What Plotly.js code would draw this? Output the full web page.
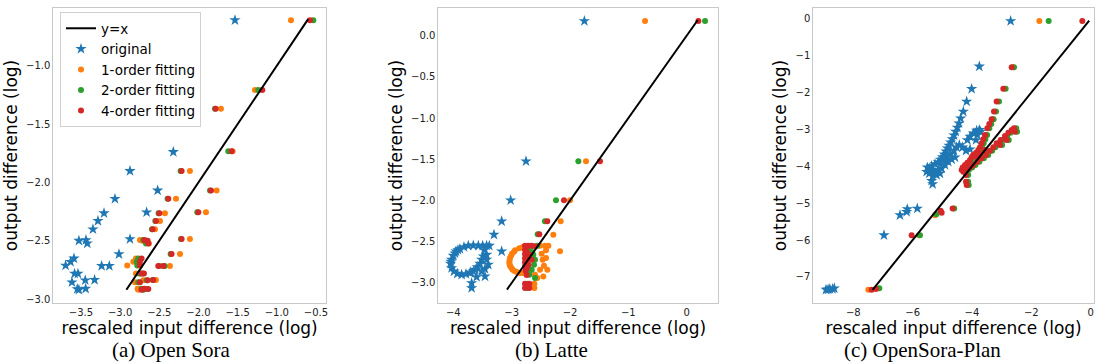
<!DOCTYPE html>
<html>
<head>
<meta charset="utf-8">
<script src="https://cdn.plot.ly/plotly-3.0.1.min.js"></script>
<style>html,body{margin:0;padding:0;background:#fff;}#chart{width:1109px;height:364px;}</style>
</head>
<body>
<div id="chart"></div>
<script>
// ---------- Data ----------
const seriesNames = ["original", "1-order fitting", "2-order fitting", "4-order fitting"];
const panelCaptions = ["(a) Open Sora", "(b) Latte", "(c) OpenSora-Plan"];
const xTitle = "rescaled input difference (log)";
const yTitle = "output difference (log)";

// Panel (a) Open Sora
const a_orig_x = [-1.534,-2.321,-2.874,-2.521,-3.066,-3.206,-2.662,-3.283,-3.347,-3.526,-3.436,-3.419,-2.874,-3.015,-3.589,-3.632,-3.696,-3.236,-3.138,-3.581,-3.538,-3.615,-3.445,-3.326,-3.547,-3.526,-3.440];
const a_orig_y = [-0.609,-1.739,-1.902,-2.069,-2.141,-2.264,-2.256,-2.330,-2.402,-2.500,-2.494,-2.523,-2.486,-2.615,-2.652,-2.681,-2.713,-2.716,-2.716,-2.782,-2.782,-2.856,-2.839,-2.836,-2.914,-2.920,-2.911];
const a_fit_y  = [-0.609,-1.207,-1.368,-1.733,-1.902,-2.069,-2.141,-2.256,-2.264,-2.330,-2.402,-2.486,-2.494,-2.500,-2.523,-2.615,-2.652,-2.681,-2.713,-2.716,-2.716,-2.782,-2.782,-2.839,-2.836,-2.856,-2.911,-2.914,-2.920];
const a_o1_x = [-0.819,-1.279,-1.713,-1.564,-2.109,-1.768,-2.287,-1.904,-2.428,-2.491,-2.555,-2.109,-2.747,-2.717,-2.632,-2.236,-2.798,-2.832,-2.909,-2.440,-2.364,-2.798,-2.747,-2.704,-2.543,-2.811,-2.777,-2.747,-2.768];
const a_o2_x = [-0.534,-1.236,-1.789,-1.619,-2.228,-1.853,-2.394,-2.015,-2.509,-2.551,-2.594,-2.223,-2.704,-2.662,-2.670,-2.355,-2.768,-2.789,-2.781,-2.500,-2.432,-2.755,-2.713,-2.662,-2.585,-2.768,-2.726,-2.662,-2.704];
const a_o4_x = [-0.577,-1.185,-1.781,-1.577,-2.215,-1.840,-2.385,-2.002,-2.500,-2.543,-2.585,-2.215,-2.691,-2.649,-2.640,-2.343,-2.726,-2.747,-2.747,-2.513,-2.449,-2.726,-2.696,-2.649,-2.577,-2.747,-2.691,-2.640,-2.726];
const a_line = [-2.92, -0.60];

// Panel (b) Latte
const b_orig_x = [-1.754,-2.754,-3.017,-3.171,-3.303,-3.171,
  -3.886,-3.817,-3.743,-3.657,-3.571,-3.497,-3.429,-3.383,-3.954,-4.000,-4.029,-4.046,-4.029,-3.989,-3.931,-3.857,-3.783,-3.714,-3.657,-3.589,-3.543,-3.514,-3.486,-3.429,-3.429,-3.400,-3.457,-3.514,-3.600,-3.457,-3.686,-3.686,
  -3.920,-3.970,-4.040,-3.700,-3.620,-3.470];
const b_orig_y = [0.178,-1.524,-1.997,-2.252,-2.414,-2.616,
  -2.588,-2.564,-2.548,-2.544,-2.548,-2.548,-2.548,-2.548,-2.616,-2.669,-2.717,-2.766,-2.818,-2.859,-2.887,-2.899,-2.891,-2.879,-2.859,-2.806,-2.766,-2.717,-2.677,-2.657,-2.717,-2.778,-2.830,-2.859,-2.928,-2.920,-3.000,-3.061,
  -2.600,-2.640,-2.740,-2.870,-2.840,-2.600];
const b_o1_x = [-0.714,-1.726,-2.000,-2.160,-2.286,-2.171,
  -2.800,-2.869,-2.943,-2.994,-3.029,-3.040,-3.023,-2.983,-2.914,-2.840,-2.820,-2.960,-3.010,-3.035,-3.035,-3.000,-2.950,-2.875,-2.800,
  -2.514,-2.429,-2.371,-2.411,-2.486,-2.411,-2.469,-2.446,-2.389,-2.457,-2.560,-2.611,-2.611,-2.514,-2.600];
const b_o1_y = [0.178,-1.524,-1.997,-2.252,-2.414,-2.616,
  -2.564,-2.580,-2.604,-2.645,-2.697,-2.750,-2.798,-2.839,-2.867,-2.879,-2.570,-2.620,-2.670,-2.720,-2.775,-2.820,-2.855,-2.875,-2.880,
  -2.548,-2.548,-2.548,-2.604,-2.645,-2.697,-2.717,-2.790,-2.839,-2.920,-2.940,-3.008,-3.061,-2.839,-2.899];
const b_o2_x = [0.314,-1.857,-2.240,-2.430,-2.554,
  -2.731,-2.674,-2.629,-2.600,-2.617,-2.657,-2.697,-2.600,-2.731,-2.731,-2.560,-2.720,-2.700,-2.720,-2.700];
const b_o2_y = [0.178,-1.524,-1.997,-2.252,-2.410,
  -2.564,-2.604,-2.657,-2.717,-2.778,-2.839,-2.899,-2.940,-3.008,-3.061,-2.548,-2.620,-2.700,-2.800,-2.870];
const b_o4_x = [0.200,-1.486,-2.103,-2.389,-2.526,
  -2.771,-2.714,-2.657,-2.600,-2.771,-2.771,-2.771,-2.771,-2.771,-2.760,-2.743,-2.771,-2.771,-2.697,-2.697,-2.697,-2.657,-2.714,-2.740,-2.740,-2.740];
const b_o4_y = [0.178,-1.524,-1.997,-2.252,-2.410,
  -2.548,-2.548,-2.548,-2.556,-2.596,-2.649,-2.701,-2.750,-2.798,-2.851,-2.903,-3.008,-3.061,-3.008,-3.061,-2.657,-2.717,-2.778,-2.620,-2.720,-2.820];
const b_line = [-3.08, 0.19];

// Panel (c) OpenSora-Plan
const c_orig_x = [-2.697,-3.753,-4.011,-4.180,-4.292,-4.382,-4.438,-4.494,-4.551,-4.607,-4.663,-4.719,-4.775,-4.831,-4.876,-4.933,-4.989,-5.056,-5.135,-5.247,-5.360,-5.438,-5.360,-5.247,-5.438,-5.326,-5.360,-5.326,
  -3.753,-3.843,-3.955,-4.067,-4.157,-3.708,-3.820,-3.865,-4.067,-4.202,-4.315,-4.427,-4.517,-4.607,-4.719,-4.831,-4.944,-5.079,
  -5.022,-4.910,-4.798,-4.685,-4.573,-5.135,-5.191,-5.506,-5.528,-5.079,
  -6.427,-6.202,-6.180,-5.843,-6.966,-8.920,-8.850,-8.790,-8.700,-8.640];
const c_orig_y = [-0.063,-1.295,-1.902,-2.246,-2.518,-2.699,-2.835,-2.953,-3.062,-3.161,-3.261,-3.351,-3.442,-3.514,-3.596,-3.678,-3.750,-3.822,-3.886,-3.940,-3.995,-4.058,-4.103,-4.149,-4.194,-4.266,-4.393,-4.484,
  -3.016,-3.034,-3.107,-3.197,-3.288,-3.062,-3.152,-3.288,-3.541,-3.578,-3.487,-3.424,-3.487,-3.578,-3.668,-3.759,-3.831,-3.940,
  -4.058,-3.967,-3.877,-3.813,-3.759,-4.103,-4.239,-4.031,-4.149,-4.194,
  -5.326,-5.236,-5.163,-5.145,-5.870,-7.346,-7.340,-7.328,-7.330,-7.310];
const c_o1_x = [-1.730,-7.494,-5.787,-5.247,-2.620,-3.300,-3.950,-4.250];
const c_o1_y = [-0.063,-7.346,-5.870,-5.326,-1.313,-2.726,-3.696,-4.103];
const c_o2_x = [-1.416,-2.584,-2.865,-3.090,-3.191,-3.270,-3.350,-3.416,-3.490,-3.550,-3.605,-3.660,-3.715,-3.790,-3.880,-3.940,-3.995,-4.085,-4.165,-4.245,-4.280,-4.220,-4.110,-3.995,-3.885,-3.750,-3.600,-3.455,-3.320,-3.210,-3.095,-2.960,-2.815,-2.700,-2.590,-2.510,-2.480,-2.760,-2.985,-4.130,-4.130,-4.110,-5.753,-5.200,-4.600,-7.124];
const c_o2_y = [-0.063,-1.313,-1.902,-2.246,-2.518,-2.726,-2.853,-2.971,-3.152,-3.270,-3.379,-3.487,-3.560,-3.632,-3.696,-3.759,-3.831,-3.904,-3.967,-4.031,-4.103,-4.149,-4.103,-4.031,-3.967,-3.877,-3.786,-3.696,-3.578,-3.487,-3.379,-3.288,-3.179,-3.089,-3.016,-2.971,-3.062,-3.288,-3.424,-4.239,-4.420,-4.511,-5.870,-5.300,-5.145,-7.310];
const c_o4_x = [-0.281,-2.663,-2.944,-3.169,-3.258,-3.337,-3.416,-3.483,-3.562,-3.618,-3.674,-3.730,-3.787,-3.865,-3.955,-4.011,-4.067,-4.157,-4.236,-4.315,-4.348,-4.292,-4.180,-4.067,-3.955,-3.820,-3.674,-3.528,-3.393,-3.281,-3.169,-3.034,-2.888,-2.775,-2.663,-2.584,-2.551,-2.831,-3.056,-4.202,-4.202,-4.180,-3.843,-3.730,-3.562,-6.034,-5.056,-5.022,-4.652,-7.382,-7.236];
const c_o4_y = [-0.063,-1.313,-1.902,-2.246,-2.518,-2.726,-2.853,-2.971,-3.152,-3.270,-3.379,-3.487,-3.560,-3.632,-3.696,-3.759,-3.831,-3.904,-3.967,-4.031,-4.103,-4.149,-4.103,-4.031,-3.967,-3.877,-3.786,-3.696,-3.578,-3.487,-3.379,-3.288,-3.179,-3.089,-3.016,-2.971,-3.062,-3.288,-3.424,-4.239,-4.420,-4.511,-3.741,-3.668,-3.560,-5.870,-5.209,-5.263,-5.145,-7.346,-7.330];
const c_line = [-7.35, -0.05];

// ---------- Styling ----------
const colors = ["#1f77b4", "#ff7f0e", "#2ca02c", "#d62728"];
const W = 1109, H = 364;
const FONT = "DejaVu Sans, Verdana, sans-serif";

const panels = [
  {ax: "", orig: [a_orig_x, a_orig_y], fits: [[a_o1_x, a_fit_y], [a_o2_x, a_fit_y], [a_o4_x, a_fit_y]], line: a_line},
  {ax: "2", orig: [b_orig_x, b_orig_y], fits: [[b_o1_x, b_o1_y], [b_o2_x, b_o2_y], [b_o4_x, b_o4_y]], line: b_line},
  {ax: "3", orig: [c_orig_x, c_orig_y], fits: [[c_o1_x, c_o1_y], [c_o2_x, c_o2_y], [c_o4_x, c_o4_y]], line: c_line}
];

const traces = [];
panels.forEach((p, i) => {
  const xa = "x" + p.ax, ya = "y" + p.ax;
  const show = i === 0;
  traces.push({type: "scatter", mode: "markers", x: p.orig[0], y: p.orig[1], xaxis: xa, yaxis: ya,
    name: seriesNames[0], legendrank: 2, showlegend: show, legendgroup: "o",
    marker: {symbol: "star", size: 8.5, color: colors[0], line: {width: 0}}});
  p.fits.forEach((f, k) => {
    traces.push({type: "scatter", mode: "markers", x: f[0], y: f[1], xaxis: xa, yaxis: ya,
      name: seriesNames[k + 1], legendrank: 3 + k, showlegend: show, legendgroup: "f" + k,
      marker: {symbol: "circle", size: 6, color: colors[k + 1], line: {width: 0}}});
  });
  traces.push({type: "scatter", mode: "lines", x: p.line, y: p.line, xaxis: xa, yaxis: ya,
    name: "y=x", legendrank: 1, showlegend: show, legendgroup: "l",
    line: {color: "#000000", width: 2}});
});

function axisBase(extra) {
  return Object.assign({
    showgrid: false, zeroline: false, showline: true, mirror: true,
    linecolor: "#c8c8c8", linewidth: 1, ticks: "", ticklen: 0,
    tickfont: {family: FONT, size: 10, color: "#222"},
    automargin: false
  }, extra);
}
const yDom = [1 - 303 / H, 1 - 8 / H];
const titleFont = {family: FONT, size: 17, color: "#000"};

const layout = {
  width: W, height: H,
  margin: {l: 0, r: 0, t: 0, b: 0},
  paper_bgcolor: "#ffffff", plot_bgcolor: "#ffffff",
  showlegend: true,
  font: {family: FONT, color: "#000"},
  legend: {x: 60 / W, y: 1 - 12 / H, xanchor: "left", yanchor: "top",
    bgcolor: "rgba(255,255,255,0.85)", bordercolor: "#d0d0d0", borderwidth: 1,
    font: {family: FONT, size: 13.5, color: "#000"}, tracegroupgap: 0, itemwidth: 30},
  xaxis: axisBase({anchor: "y", domain: [53.3 / W, 326 / W], range: [-3.853, -0.372], dtick: 0.5, tick0: 0, tickformat: ".1f",
    title: {text: xTitle, font: titleFont, standoff: 2}}),
  yaxis: axisBase({anchor: "x", domain: yDom, range: [-3.034, -0.505], dtick: 0.5, tick0: 0, tickformat: ".1f",
    title: {text: yTitle, font: titleFont, standoff: 4}}),
  xaxis2: axisBase({anchor: "y2", domain: [438.3 / W, 717.7 / W], range: [-4.257, 0.531], dtick: 1, tick0: 0,
    title: {text: xTitle, font: titleFont, standoff: 2}}),
  yaxis2: axisBase({anchor: "x2", domain: yDom, range: [-3.243, 0.336], dtick: 0.5, tick0: 0, tickformat: ".1f",
    title: {text: yTitle, font: titleFont, standoff: 4}}),
  xaxis3: axisBase({anchor: "y3", domain: [813.3 / W, 1094 / W], range: [-9.348, 0.112], dtick: 2, tick0: 0,
    title: {text: xTitle, font: titleFont, standoff: 2}}),
  yaxis3: axisBase({anchor: "x3", domain: yDom, range: [-7.708, 0.29], dtick: 1, tick0: 0,
    title: {text: yTitle, font: titleFont, standoff: 4}}),
  annotations: [
    {text: panelCaptions[0], x: 171 / W, y: 1 - 350 / H},
    {text: panelCaptions[1], x: 551 / W, y: 1 - 350 / H},
    {text: panelCaptions[2], x: 922 / W, y: 1 - 350 / H}
  ].map(a => Object.assign(a, {xref: "paper", yref: "paper", xanchor: "center", yanchor: "middle",
    showarrow: false, font: {family: "Liberation Serif, Times New Roman, serif", size: 21, color: "#000"}}))
};

Plotly.newPlot("chart", traces, layout, {displayModeBar: false, staticPlot: true});
</script>
</body>
</html>
